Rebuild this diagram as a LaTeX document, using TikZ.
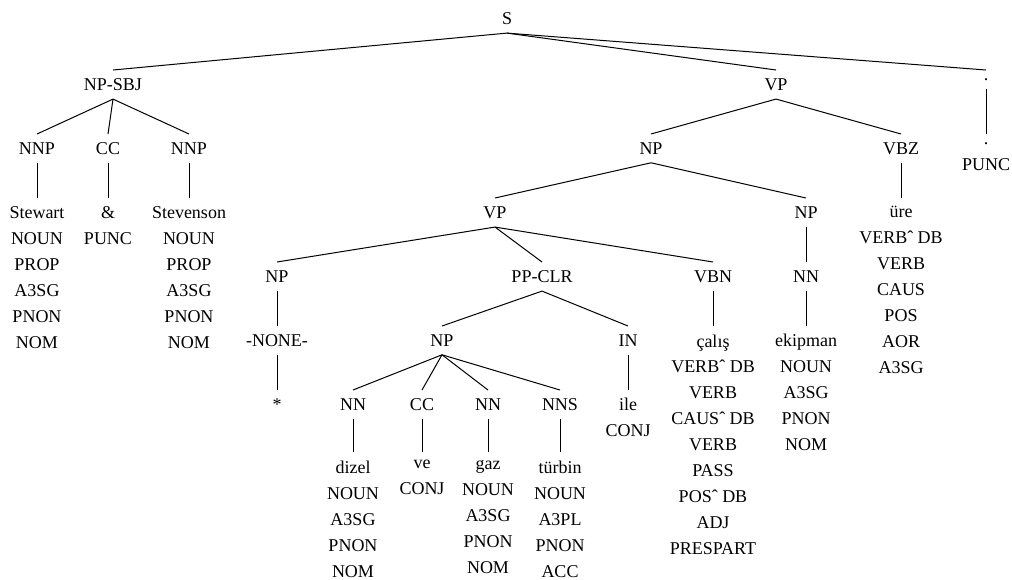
\documentclass[tikz,border=0pt]{standalone}
\usepackage{fontspec}
\setmainfont{LiberationSerif}[Extension=.ttf,UprightFont=*-Regular]
\usepackage{tikz}
\tikzset{
parse/.style={x=0.5pt,y=-0.5pt,line width=0.5pt,
every node/.style={font=\rmfamily\fontsize{9}{13}\selectfont}},
cat/.style={anchor=north,inner sep=4pt},
word/.style={anchor=north,inner sep=4pt,align=center},
}

\begin{document}
\begin{tikzpicture}[parse]
  \useasboundingbox (0,0) rectangle (1012,579);
  % rows
  \node[cat] (s) at (507,4) {S};
  \node[cat] (npsbj) at (113,70) {NP-SBJ};
  \node[cat] (vp) at (776,70) {VP};
  \node[cat] (dot) at (986,70) {.};
  \node[cat] (nnp1) at (37,134) {NNP};
  \node[cat] (cc1) at (108,134) {CC};
  \node[cat] (nnp2) at (189,134) {NNP};
  \node[cat] (np1) at (651,134) {NP};
  \node[cat] (vbz) at (901,134) {VBZ};
  \node[word] (w4) at (986,134) {.\\PUNC};
  \node[word] (w1) at (37,198) {Stewart\\NOUN\\PROP\\A3SG\\PNON\\NOM};
  \node[word] (w2) at (108,198) {\&\\PUNC};
  \node[word] (w3) at (189,198) {Stevenson\\NOUN\\PROP\\A3SG\\PNON\\NOM};
  \node[cat] (vp2) at (495,198) {VP};
  \node[cat] (np2) at (806,198) {NP};
  \node[word] (w5) at (901,198) {üre\\VERBˆ DB\\VERB\\CAUS\\POS\\AOR\\A3SG};
  \node[cat] (np3) at (277,262) {NP};
  \node[cat] (ppclr) at (542,262) {PP-CLR};
  \node[cat] (vbn) at (713,262) {VBN};
  \node[cat] (nn1) at (806,262) {NN};
  \node[cat] (none) at (277,326) {-NONE-};
  \node[cat] (np4) at (442,326) {NP};
  \node[cat] (in1) at (628,326) {IN};
  \node[word] (w6) at (713,326) {çalış\\VERBˆ DB\\VERB\\CAUSˆ DB\\VERB\\PASS\\POSˆ DB\\ADJ\\PRESPART};
  \node[word] (w7) at (806,326) {ekipman\\NOUN\\A3SG\\PNON\\NOM};
  \node[word] (w8) at (277,390) {*};
  \node[cat] (nn2) at (353,390) {NN};
  \node[cat] (cc2) at (422,390) {CC};
  \node[cat] (nn3) at (488,390) {NN};
  \node[cat] (nns) at (560,390) {NNS};
  \node[word] (w9) at (628,390) {ile\\CONJ};
  \node[word] (w10) at (353,452) {dizel\\NOUN\\A3SG\\PNON\\NOM};
  \node[word] (w11) at (422,452) {ve\\CONJ};
  \node[word] (w12) at (488,452) {gaz\\NOUN\\A3SG\\PNON\\NOM};
  \node[word] (w13) at (560,452) {türbin\\NOUN\\A3PL\\PNON\\ACC};

  % branches
  \path (s.south) edge (npsbj.north) edge (vp.north) edge (dot.north);
  \path (npsbj.south) edge (nnp1.north) edge (cc1.north) edge (nnp2.north);
  \path (nnp1.south) edge (w1.north);
  \path (cc1.south) edge (w2.north);
  \path (nnp2.south) edge (w3.north);
  \path (dot.south) edge (w4.north);
  \path (vp.south) edge (np1.north) edge (vbz.north);
  \path (vbz.south) edge (w5.north);
  \path (np1.south) edge (vp2.north) edge (np2.north);
  \path (np2.south) edge (nn1.north);
  \path (nn1.south) edge (w7.north);
  \path (vp2.south) edge (np3.north) edge (ppclr.north) edge (vbn.north);
  \path (np3.south) edge (none.north);
  \path (none.south) edge (w8.north);
  \path (vbn.south) edge (w6.north);
  \path (ppclr.south) edge (np4.north) edge (in1.north);
  \path (in1.south) edge (w9.north);
  \path (np4.south) edge (nn2.north) edge (cc2.north) edge (nn3.north) edge (nns.north);
  \path (nn2.south) edge (w10.north);
  \path (cc2.south) edge (w11.north);
  \path (nn3.south) edge (w12.north);
  \path (nns.south) edge (w13.north);
\end{tikzpicture}
\end{document}
